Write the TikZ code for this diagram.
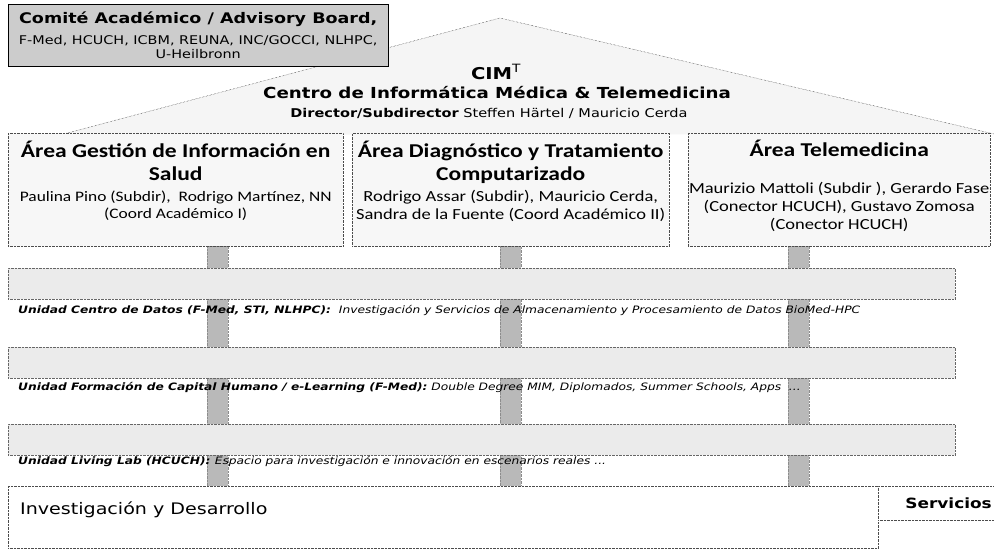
\documentclass[tikz,border=0pt]{standalone}
\usepackage{fontspec}
\setmainfont{Carlito}[FakeStretch=1.2]
\newfontfamily\verdfont{DejaVu Sans}[FakeStretch=1.2]
\usetikzlibrary{positioning,calc}

\newcommand{\areatitle}{\fontsize{19.6}{23}\selectfont\bfseries}
\newcommand{\areanames}{\fontsize{15.4}{17}\selectfont\mdseries}

\begin{document}
\begin{tikzpicture}[x=1pt,y=-1pt]

% Define box and layer styles
\tikzstyle{boardbox} = [draw=black, fill=gray!40, thin, rectangle,
    anchor=north west, minimum width=380pt, minimum height=62pt,
    inner sep=0pt, align=center, font=\fontsize{12}{14}\selectfont]
\tikzstyle{areabox} = [draw=black!70, densely dotted, fill=gray!6,
    rectangle, anchor=north west, minimum height=113pt, inner sep=0pt]
\tikzstyle{areatext} = [align=center, inner sep=0pt,
    font=\fontsize{15}{23}\selectfont]
\tikzstyle{layerbox} = [draw=black!60, densely dotted, fill=gray!16,
    rectangle, anchor=north west, minimum width=947pt,
    minimum height=31pt, inner sep=0pt]
\tikzstyle{layertext} = [anchor=west, inner sep=0pt,
    font=\verdfont\itshape\fontsize{10.2}{12}\selectfont]
\tikzstyle{pillar} = [fill=gray!55, draw=black!45, densely dotted]

\useasboundingbox (0,0) rectangle (994,551);

% roof of the house
\coordinate (apex) at (500,18);
\coordinate (eaveL) at (60,135);
\coordinate (eaveR) at (994,134);
\draw[densely dotted, fill=gray!8] (eaveL) -- (apex) -- (eaveR);

\node[boardbox] (board) at (8,4) {%
    {\verdfont\bfseries\fontsize{14.6}{16}\selectfont Comité Académico / Advisory Board,}\\[7pt]
    {\verdfont\fontsize{12}{14}\selectfont F-Med, HCUCH, ICBM, REUNA, INC/GOCCI, NLHPC,}\\
    {\verdfont\fontsize{12}{14}\selectfont U-Heilbronn}};

\node[font=\verdfont\bfseries\fontsize{16.3}{18}\selectfont] (cim) at (496,72)
    {CIM\textsuperscript{\mdseries T}};
\node[font=\verdfont\bfseries\fontsize{15.2}{17}\selectfont] (centro) at (497,93)
    {Centro de Informática Médica \& Telemedicina};
\node[font=\verdfont\fontsize{12.1}{14}\selectfont] (direccion) at (489,113)
    {\textbf{Director/Subdirector} Steffen Härtel / Mauricio Cerda};

% columns below the three areas
\foreach \px in {207,500,788}
    \filldraw[pillar] (\px,246) rectangle ++(21,240);

% the three areas
\node[areabox, minimum width=335pt] (gestion) at (8,133) {};
\node[areatext, below=8pt of gestion.north] (gestiontxt) {%
    \areatitle Área Gestión de Información en\\ \areatitle Salud\\[-2pt]
    \fontsize{14.5}{17}\selectfont\mdseries Paulina Pino (Subdir),\ \ Rodrigo Martínez, NN\\[-6pt]
    \fontsize{14.5}{17}\selectfont\mdseries (Coord Académico I)};
\node[areabox, minimum width=317pt] (diagnostico) at (352,133) {};
\node[areatext, below=8pt of diagnostico.north] (diagnosticotxt) {%
    \areatitle Área Diagnóstico y Tratamiento\\ \areatitle Computarizado\\[-2pt]
    \areanames Rodrigo Assar (Subdir), Mauricio Cerda,\\[-5pt]
    \areanames Sandra de la Fuente (Coord Académico II)};
\node[areabox, minimum width=302pt] (telemedicina) at (688,133) {};
\node[areatext, below=7pt of telemedicina.north] (telemedicinatxt) {%
    \areatitle Área Telemedicina\\[14pt]
    \areanames Maurizio Mattoli (Subdir ), Gerardo Fase\\[-5pt]
    \areanames (Conector HCUCH), Gustavo Zomosa\\[-5pt]
    \areanames (Conector HCUCH)};

% horizontal layers
\node[layerbox] (datos) at (8,268) {};
\node[layertext] (datostxt) at (18,310)
    {\bfseries Unidad Centro de Datos (F-Med, STI, NLHPC):\mdseries\ \ Investigación y Servicios de Almacenamiento y Procesamiento de Datos BioMed-HPC};
\node[layerbox] (formacion) at (8,347) {};
\node[layertext] (formaciontxt) at (18,388)
    {\bfseries Unidad Formación de Capital Humano / e-Learning (F-Med):\mdseries\ Double Degree MIM, Diplomados, Summer Schools, Apps \ ...};
\node[layerbox] (livinglab) at (8,424) {};
\node[layertext] (livinglabtxt) at (18,462)
    {\bfseries Unidad Living Lab (HCUCH): \mdseries Espacio para investigación e innovación en escenarios reales ...};

% foundation
\node[draw=black!70, densely dotted, fill=white, anchor=north west,
    minimum width=870pt, minimum height=62pt] (idi) at (8,486) {};
\node[anchor=west, inner sep=0pt, font=\verdfont\fontsize{15.9}{18}\selectfont]
    (iditxt) at (20,510) {Investigación y Desarrollo};
\node[draw=black!70, densely dotted, fill=white, anchor=north west,
    minimum width=116pt, minimum height=34pt, inner sep=0pt] (servicios) at (878,486) {};
\node[anchor=east, inner sep=0pt, font=\verdfont\bfseries\fontsize{14.1}{16}\selectfont]
    (serviciostxt) at (992,503) {Servicios};

\end{tikzpicture}
\end{document}
